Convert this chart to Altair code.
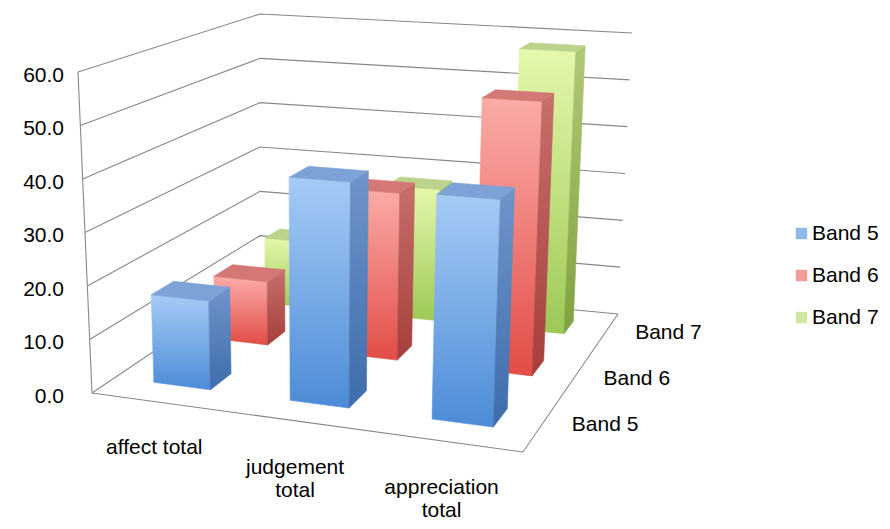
import altair as alt
import pandas as pd

FONT = "Liberation Sans"
W, H = 874, 513

categories = ["affect total", "judgement total", "appreciation total"]
category_labels = ["affect total", "judgement\ntotal", "appreciation\ntotal"]
bands = ["Band 5", "Band 6", "Band 7"]
band5 = [16.6, 41.0, 40.0]
band6 = [12.7, 32.7, 52.4]
band7 = [14.0, 27.5, 58.0]
y_ticks = [0, 10, 20, 30, 40, 50, 60]
Y_MAX = 60

# where the corners of the 3-D box land on the page, keyed (across, depth, up)
BOX = {
    (0, 0, 0): (92, 393), (1, 0, 0): (523, 452),
    (0, 1, 0): (260, 280), (1, 1, 0): (618, 314),
    (0, 0, 1): (78, 72), (1, 0, 1): (536, 97),
    (0, 1, 1): (260, 14), (1, 1, 1): (632, 33),
}
BEND_U = 0.06  # perspective stretch along the categories
BEND_W = 0.30  # near rows take more room than far ones
HALF_U = 0.21  # half of a bar's width, as a share of its slot
HALF_W = 0.17  # half of a bar's depth, as a share of its row

# (front top, front bottom), (side top, side bottom), top face
STYLE = {
    "Band 5": (("#A6CBF6", "#4C8BD7"), ("#6F94CA", "#3D6DAC"), "#7CA2D6"),
    "Band 6": (("#FBACA8", "#E24C46"), ("#C66F6B", "#A63F3B"), "#D37874"),
    "Band 7": (("#E4F8AC", "#9DC957"), ("#B0C977", "#7FA23F"), "#BCD38B"),
}
LEGEND_COLORS = ["#5E9BE2", "#EC726D", "#B9DC78"]


def project(i):
    terms = []
    for (cu, cw, cv), pos in BOX.items():
        parts = [
            "datum.pu" if cu else "(1 - datum.pu)",
            "datum.pw" if cw else "(1 - datum.pw)",
            "datum.v" if cv else "(1 - datum.v)",
        ]
        terms.append("*".join(parts) + f"*{pos[i] - 8}")
    return " + ".join(terms)


def placed(chart, bend=True):
    bw = BEND_W if bend else 0
    return chart.transform_calculate(
        pu=f"datum.u + {BEND_U} * datum.u * (datum.u - 1)",
        pw=f"datum.w + {bw} * datum.w * (1 - datum.w)",
        px=project(0),
        py=project(1),
    )


def vgrad(top, bottom):
    return alt.Gradient(
        gradient="linear",
        stops=[alt.GradientStop(color=top, offset=0), alt.GradientStop(color=bottom, offset=1)],
        x1=0, x2=0, y1=0, y2=1,
    )


X = alt.X("px:Q", scale=alt.Scale(domain=[0, W], nice=False, zero=False), axis=None)
Y = alt.Y("py:Q", scale=alt.Scale(domain=[0, H], nice=False, zero=False, reverse=True), axis=None)

bars = pd.DataFrame({
    "band": [b for b in bands for _ in categories],
    "category": categories * len(bands),
    "value": band5 + band6 + band7,
})
bars["bi"] = [bands.index(b) for b in bars["band"]]
bars["ci"] = [categories.index(c) for c in bars["category"]]

EDGE = "(datum.kk == 1 || datum.kk == 2)"
FACES = {
    "front": (f"{EDGE} ? datum.u1 : datum.u0", "datum.w0", "datum.kk >= 2 ? datum.vt : 0"),
    "side": ("datum.u1", f"{EDGE} ? datum.w1 : datum.w0", "datum.kk >= 2 ? datum.vt : 0"),
    "top": (f"{EDGE} ? datum.u1 : datum.u0", "datum.kk >= 2 ? datum.w1 : datum.w0", "datum.vt"),
}


def face(band, name, paint):
    u, w, v = FACES[name]
    chart = (
        alt.Chart(bars)
        .transform_filter(alt.datum.band == band)
        .transform_calculate(
            u0=f"(datum.ci + {0.5 - HALF_U:.3f}) / 3",
            u1=f"(datum.ci + {0.5 + HALF_U:.3f}) / 3",
            w0=f"(datum.bi + {0.5 - HALF_W:.3f}) / 3",
            w1=f"(datum.bi + {0.5 + HALF_W:.3f}) / 3",
            vt=f"datum.value / {Y_MAX}",
            k="[0, 1, 2, 3, 4]",
        )
        .transform_flatten(["k"])
        .transform_calculate(kk="datum.k % 4", u=u, w=w, v=v)
    )
    return placed(chart).mark_line(fill=paint, stroke=paint, strokeWidth=0.6).encode(
        x=X, y=Y, detail="category:N", order="k:Q"
    )


ticks = pd.DataFrame({"tick": y_ticks})

grid = placed(
    alt.Chart(ticks)
    .transform_calculate(k="[0, 1, 2]")
    .transform_flatten(["k"])
    .transform_calculate(
        u="datum.k == 2 ? 1 : 0",
        w="datum.k >= 1 ? 1 : 0",
        v=f"datum.tick / {Y_MAX}",
    )
).mark_line(stroke="#878787", strokeWidth=1.1).encode(x=X, y=Y, detail="tick:Q", order="k:Q")

edges = pd.DataFrame({"edge": ["floor"] * 3 + ["post"] * 2, "k": [0, 1, 2, 0, 1]})
frame = placed(
    alt.Chart(edges).transform_calculate(
        u="datum.edge == 'floor' && datum.k >= 1 ? 1 : 0",
        w="datum.edge == 'floor' && datum.k == 2 ? 1 : 0",
        v="datum.edge == 'post' ? datum.k : 0",
    )
).mark_line(stroke="#878787", strokeWidth=1.1).encode(x=X, y=Y, detail="edge:N", order="k:Q")

faces = []
for band in reversed(bands):
    front, side, top = STYLE[band]
    faces.append(face(band, "front", vgrad(*front)))
    faces.append(face(band, "side", vgrad(*side)))
    faces.append(face(band, "top", top))

text_style = dict(font=FONT, fontSize=21, color="#000000")

tick_text = placed(
    alt.Chart(ticks).transform_calculate(
        u="0", w="0", v=f"datum.tick / {Y_MAX}", label="format(datum.tick, '.1f')"
    )
).mark_text(align="right", baseline="middle", dy=3.5, **text_style).encode(
    x=alt.value(56), y=Y, text="label:N"
)

cats = pd.DataFrame({"label": category_labels, "ci": range(len(categories))})
cat_text = placed(
    alt.Chart(cats).transform_calculate(
        u=f"(datum.ci + 0.5) / {len(categories)}", w="0", v="0"
    )
).mark_text(
    align="center", baseline="top", dx=-6, dy=35, lineBreak="\n", lineHeight=23, **text_style
).encode(x=X, y=Y, text="label:N")

band_rows = pd.DataFrame({"band": bands, "bi": range(len(bands))})
band_text = placed(
    alt.Chart(band_rows).transform_calculate(
        u="1", w=f"(datum.bi + 0.5) / {len(bands)}", v="0"
    ),
    bend=False,
).mark_text(align="left", baseline="middle", dx=33, dy=-4, **text_style).encode(
    x=X, y=Y, text="band:N"
)

legend = (
    alt.Chart(bars)
    .transform_filter("false")
    .mark_square()
    .encode(
        x=X,
        y=Y,
        color=alt.Color(
            "band:N",
            scale=alt.Scale(domain=bands, range=LEGEND_COLORS),
            legend=alt.Legend(
                title=None,
                orient="none",
                legendX=783,
                legendY=215,
                symbolType="square",
                symbolSize=130,
                symbolStrokeWidth=0,
                labelFont=FONT,
                labelFontSize=21,
                labelColor="#000000",
                labelOffset=0,
                rowPadding=20,
                padding=0,
            ),
        ),
    )
)

chart = (
    alt.layer(grid, frame, *faces, tick_text, cat_text, band_text, legend)
    .properties(width=W, height=H, padding=0, autosize="none", background="white")
    .configure_view(stroke=None)
)

chart.save("out.html", embed_options={"renderer": "svg", "actions": False})
